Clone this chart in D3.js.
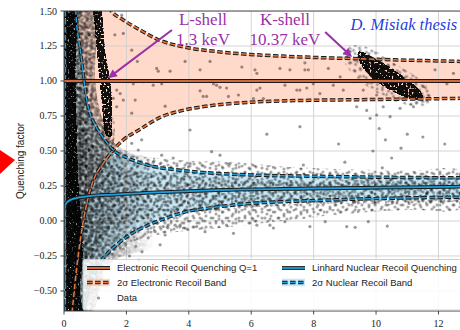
<!DOCTYPE html>
<html><head><meta charset="utf-8">
<script src="https://cdn.jsdelivr.net/npm/d3@7"></script>
<style>body{margin:0;background:#fff} svg{display:block}</style>
</head><body>
<svg id="c" width="460" height="330"></svg>
<script>
// ---------------- data ----------------
const xDomain = [0, 12.69];
const yDomain = [-0.643, 1.5];
const xTicks = [0, 2, 4, 6, 8, 10, 12];
const yTicks = [-0.5, -0.25, 0, 0.25, 0.5, 0.75, 1.0, 1.25, 1.5];

// Electronic recoil quenching Q=1
const erQuenchE = [0.0, 12.69];
const erQuenchQ = [1.0, 1.0];
// 2 sigma electronic recoil band
const erUpperE = [0, 0.4, 0.8, 1.2, 1.53, 1.9, 2.44, 3.08, 3.81, 4.9, 5.96, 7.56, 9.26, 10.77, 12.7];
const erUpperQ = [4.0, 2.3, 1.9, 1.62, 1.496, 1.436, 1.364, 1.29, 1.245, 1.21, 1.19, 1.172, 1.16, 1.15, 1.14];
const erLowerE = [0, 0.2, 0.26, 0.30, 0.41, 0.51, 0.62, 0.78, 0.99, 1.26, 1.58, 1.9, 2.44, 3.08, 3.81, 4.9, 5.96, 7.88, 9.26, 10.77, 12.7];
const erLowerQ = [-3.0, -0.8, -0.65, -0.564, -0.329, -0.157, 0.0, 0.174, 0.316, 0.412, 0.507, 0.579, 0.655, 0.74, 0.79, 0.829, 0.848, 0.862, 0.866, 0.87, 0.876];
// Lindhard nuclear recoil quenching
const lindE = [0.03, 0.1, 0.35, 0.78, 1.31, 2.0, 2.76, 4.9, 7.88, 10, 12.7];
const lindQ = [0.11, 0.135, 0.162, 0.177, 0.186, 0.193, 0.202, 0.221, 0.232, 0.238, 0.245];
// 2 sigma nuclear recoil band
const nrUpperE = [0, 0.2, 0.3, 0.375, 0.545, 0.73, 0.8, 0.9, 0.99, 1.31, 1.58, 2.06, 2.6, 3.81, 4.9, 5.96, 7.88, 10, 12.7];
const nrUpperQ = [5, 2.4, 1.85, 1.507, 1.186, 0.864, 0.79, 0.73, 0.69, 0.579, 0.507, 0.448, 0.405, 0.36, 0.34, 0.329, 0.32, 0.313, 0.308];
const nrLowerE = [0, 0.4, 0.55, 0.73, 1.0, 1.21, 1.42, 1.74, 2.17, 2.6, 3.2, 3.81, 4.9, 5.96, 7.88, 10, 12.7];
const nrLowerQ = [-5, -1.4, -0.85, -0.52, -0.36, -0.28, -0.225, -0.16, -0.09, -0.04, 0.015, 0.06, 0.10, 0.125, 0.145, 0.16, 0.17];
const nrBandStartE = 0.04;

// dense data clouds (outlines, energy keV / quenching)
const stripCloud = [[0.06,1.6],[0.05,1.0],[0.05,0.5],[0.07,0.0],[0.1,-0.3],[0.12,-0.7],
  [0.58,-0.7],[0.5,-0.5],[0.6,-0.25],[0.55,0.0],[0.46,0.25],[0.42,0.5],[0.36,1.0],[0.3,1.6]];
const lShellCloud = [[0.92,1.6],[0.94,1.5],[0.97,1.43],[1.05,1.22],[1.15,1.0],[1.21,0.864],[1.26,0.72],[1.33,0.62],
  [1.5,0.6],[1.53,0.72],[1.53,0.864],[1.47,1.0],[1.31,1.22],[1.24,1.43],[1.21,1.5],[1.2,1.6]];
const lShellTail = [[1.28,0.75],[1.33,0.5],[1.52,0.5],[1.56,0.75]];
const kShellCloud = [[9.45,1.21],[10.2,1.13],[10.85,1.035],[11.4,0.93],[11.5,0.88],
  [11.25,0.865],[10.6,0.92],[10.0,1.0],[9.6,1.09],[9.42,1.18]];
const kShellHalo = [[9.0,1.24],[9.6,1.25],[10.5,1.14],[11.7,0.95],[11.7,0.83],[10.8,0.84],[9.6,0.98],[9.0,1.13]];
const leftHaloCloud = [[0.3,1.6],[0.95,1.6],[1.0,1.0],[1.2,0.75],[1.6,0.56],[2.2,0.48],[2.8,0.44],[3.0,-0.15],
  [1.5,-0.3],[0.8,-0.7],[0.3,-0.7]];
const nrOuterCloud = [[0.4,1.0],[0.7,0.9],[0.95,0.75],[1.2,0.62],[1.6,0.52],[2.2,0.47],[3,0.45],[4,0.43],[5.5,0.42],
  [7,0.39],[9,0.37],[11,0.36],[12.8,0.35],[12.8,0.1],[11,0.08],[9,0.05],[7,0.0],[5,-0.05],[4,-0.07],[3,-0.1],
  [2.2,-0.15],[1.6,-0.25],[1.2,-0.35],[0.9,-0.5],[0.7,-0.7],[0.4,-0.7]];
const nrCoreCloud = [[0.4,0.8],[0.8,0.6],[1.2,0.45],[2,0.37],[3,0.34],[5,0.31],[8,0.29],[12.8,0.28],
  [12.8,0.17],[8,0.12],[5,0.08],[3,0.03],[2,-0.02],[1.2,-0.12],[0.8,-0.3],[0.4,-0.5]];

// individual sparse data points [E, Q]
const dataPoints = [
 [2.97,1.09],[3.02,1.07],[3.40,1.07],[3.88,1.14],[4.68,1.14],[4.36,1.08],[5.70,1.10],[6.12,1.08],[6.18,1.055],[6.92,1.09],[7.24,1.08],[7.72,1.08],
 [2.86,0.97],[3.13,0.98],[4.79,0.98],[4.89,0.97],[5.0,0.955],[5.21,0.95],[4.36,0.93],[4.46,0.89],[4.57,0.89],[6.28,0.95],[6.18,0.935],[7.08,0.97],
 [7.46,0.935],[7.78,0.95],[3.24,0.82],[5.27,0.89],[5.59,0.90],[6.07,0.875],[6.39,0.875],
 [0.81,1.33],[0.71,1.14],[2.35,1.14],[2.54,0.995],[2.06,0.995],[1.69,0.935],[1.58,0.876],[1.90,0.864],[1.69,0.816],[2.17,0.77],
 [1.85,1.47],[1.9,1.34],[1.63,1.33],[2.17,1.22],[1.96,1.0],[2.22,0.98],[1.8,0.91],[2.28,0.864],[0.67,1.2],[0.62,1.05],[0.73,0.935],
 [7.72,1.13],[7.83,1.08],[7.99,0.98],[8.47,1.09],[8.63,0.97],[8.85,1.03],[8.95,0.935],[9.27,0.995],[9.59,0.935],[10.02,0.90],
 [11.52,0.96],[11.62,0.864],[11.89,1.08],[12.48,1.055],[12.27,0.98],[9.38,0.816],[9.7,0.79],[10.23,0.816],[10.77,0.805],[11.2,0.816],
 [10.02,0.757],[10.45,0.745],[9.81,0.733],[9.17,1.21],[9.06,1.17],[8.2,0.91],[7.56,0.935],
 [10.1,0.66],[10.3,0.58],[9.9,0.5],[10.5,0.45],[10.8,0.52],[11.0,0.62],[10.2,0.38],
 [4.04,0.65],[4.73,0.495],[7.56,0.674],[7.67,0.40],[5.32,0.41],[5.0,0.47],[3.13,0.47],[3.5,0.45],[4.04,0.41],[2.86,0.42],
 [11.5,0.6],[12.2,0.55],[8.8,0.55],[6.5,0.62],[9.0,0.42],[2.17,0.555],[2.38,0.507],[2.0,0.6],[2.49,0.58],
 [2.97,-0.017],[3.18,-0.04],[3.34,-0.03],[3.56,-0.03],[3.72,-0.03],[3.83,-0.05],[3.08,-0.17],[3.24,-0.1],[2.92,-0.076],[4.25,-0.04],
 [4.52,-0.076],[5.21,-0.03],[5.43,-0.088],[6.18,-0.03],[6.6,-0.03],[6.71,-0.05],[7.08,-0.005],[7.88,-0.04],[8.37,-0.005],[9.06,-0.04],
 [9.33,-0.045],[9.75,-0.005],[10.36,-0.036],
 [1.9,-0.2],[2.1,-0.25],[2.3,-0.18],[2.5,-0.22],[2.7,-0.12],[2.0,-0.1],[2.4,-0.28],[1.8,-0.3]
];

// annotations
const annotations = [
  {lines:["L-shell","1.3 keV"], E:4.455, Q:[1.40,1.257], tail:[3.46,1.364], tip:[1.41,1.02]},
  {lines:["K-shell","10.37 keV"], E:7.08, Q:[1.40,1.257], tail:[8.37,1.35], tip:[9.23,1.171]}
];
const creditText = "D. Misiak thesis";
const creditPos = [12.6, 1.364];
const yLabel = "Quenching factor";
const legendLabels = ["Electronic Recoil Quenching Q=1","Linhard Nuclear Recoil Quenching",
  "2\u03c3 Electronic Recoil Band","2\u03c3 Nuclear Recoil Band","Data"];

// ---------------- drawing ----------------
const svg = d3.select('#c');
const L=64, T=11, R=460, B=311;
const x = d3.scaleLinear().domain(xDomain).range([L,R]);
const y = d3.scaleLinear().domain(yDomain).range([B,T]);
const ORANGE='#e8743b', ORANGE_SOLID='#d2693c', BLUE='#1c9fdc', PURPLE='#9b30a8';
const zip=(E,Q)=>E.map((e,i)=>[e,Q[i]]);
const erUpper=zip(erUpperE,erUpperQ), erLower=zip(erLowerE,erLowerQ);
const nrUpper=zip(nrUpperE,nrUpperQ), nrLower=zip(nrLowerE,nrLowerQ);
const lind=zip(lindE,lindQ), erQ=zip(erQuenchE,erQuenchQ);

const defs=svg.append('defs');
defs.append('clipPath').attr('id','plotClip').append('rect')
  .attr('x',L).attr('y',T).attr('width',R-L).attr('height',B-T);
const belowArea=d3.area().x(d=>x(d[0])).y0(B+50).y1(d=>y(d[1])).curve(d3.curveMonotoneX);
const aboveArea=d3.area().x(d=>x(d[0])).y0(T-50).y1(d=>y(d[1])).curve(d3.curveMonotoneX);
defs.append('clipPath').attr('id','erClip').append('path').attr('d',belowArea(erUpper));
defs.append('clipPath').attr('id','nrClip').append('path').attr('d',belowArea(nrUpper));

// scatter texture tiles (marker styling for the dense clouds)
const tiles=[
  {w:13,h:11,d:[[2,3],[8,1],[11,7],[5,9]]},
  {w:17,h:9,d:[[1,5],[7,2],[12,7],[15,3]]},
  {w:11,h:17,d:[[3,2],[9,6],[5,11],[1,15]]},
  {w:19,h:13,d:[[4,4],[10,10],[16,2],[13,7],[7,1]]}
];
const tileTransforms=['','rotate(31) translate(5,3)','rotate(-23) translate(2,7)','rotate(67) translate(9,1)'];
let pid=0; const pats=[];
tileTransforms.forEach(tr=>tiles.forEach(t=>{
  const id='pt'+(pid++);
  const p=defs.append('pattern').attr('id',id).attr('patternUnits','userSpaceOnUse')
    .attr('width',t.w).attr('height',t.h).attr('patternTransform',tr||null);
  t.d.forEach(c=>p.append('circle').attr('cx',c[0]).attr('cy',c[1]).attr('r',1.55).attr('fill','#000').attr('fill-opacity',0.34));
  pats.push(id);
}));

function speckFilter(id,freq,oct,seed,stretch,offset,slope,color,opacity){
  const f=defs.append('filter').attr('id',id).attr('filterUnits','userSpaceOnUse')
    .attr('x',L-4).attr('y',0).attr('width',R-L+8).attr('height',B+4).attr('color-interpolation-filters','sRGB');
  f.append('feTurbulence').attr('type','fractalNoise').attr('baseFrequency',freq).attr('numOctaves',oct).attr('seed',seed).attr('result','t');
  f.append('feColorMatrix').attr('in','t').attr('type','matrix')
    .attr('values',`0 0 0 0 0  0 0 0 0 0  0 0 0 0 0  ${stretch} 0 0 0 ${offset}`).attr('result','n');
  f.append('feComposite').attr('in','n').attr('in2','SourceAlpha').attr('operator','arithmetic')
    .attr('k1',0).attr('k2',1).attr('k3',1).attr('k4',-1).attr('result','m');
  f.append('feComponentTransfer').attr('in','m').attr('result','s')
    .append('feFuncA').attr('type','linear').attr('slope',slope).attr('intercept',0);
  f.append('feFlood').attr('flood-color',color).attr('flood-opacity',opacity).attr('result','c');
  f.append('feComposite').attr('in','c').attr('in2','s').attr('operator','in');
}
speckFilter('speckDense',0.5,2,3,4,-1.2,4,'#000',0.93);

const grad=defs.append('linearGradient').attr('id','haloGrad').attr('gradientUnits','userSpaceOnUse')
  .attr('x1',x(0.35)).attr('x2',x(2.9)).attr('y1',0).attr('y2',0);
grad.append('stop').attr('offset',0).attr('stop-color','#fff').attr('stop-opacity',1);
grad.append('stop').attr('offset',1).attr('stop-color','#fff').attr('stop-opacity',0);
defs.append('mask').attr('id','haloMask').attr('maskUnits','userSpaceOnUse')
  .attr('x',0).attr('y',0).attr('width',460).attr('height',330)
  .append('rect').attr('x',0).attr('y',0).attr('width',460).attr('height',330).attr('fill','url(#haloGrad)');

const plot=svg.append('g').attr('clip-path','url(#plotClip)');
// bands
plot.append('g').attr('clip-path','url(#erClip)').append('path').attr('d',aboveArea(erLower))
  .attr('fill','rgb(255,160,122)').attr('fill-opacity',0.4);
plot.append('g').attr('clip-path','url(#nrClip)').append('path').attr('d',aboveArea(nrLower))
  .attr('fill','rgb(135,206,235)').attr('fill-opacity',0.45);
// grid
const grid=plot.append('g').attr('stroke','#cfcfcf').attr('stroke-width',0.9);
xTicks.forEach(t=>grid.append('line').attr('x1',x(t)).attr('x2',x(t)).attr('y1',T).attr('y2',B));
yTicks.forEach(t=>grid.append('line').attr('y1',y(t)).attr('y2',y(t)).attr('x1',L).attr('x2',R));

// clouds
const poly=d3.line().x(d=>x(d[0])).y(d=>y(d[1])).curve(d3.curveCatmullRomClosed);
const cloud=plot.append('g');
function texture(g,shape,ids){ids.forEach(i=>g.append('path').attr('d',poly(shape)).attr('fill',`url(#${pats[i]})`));}
texture(cloud,nrOuterCloud,[0,1]);
texture(cloud,nrCoreCloud,[2,3,5]);
texture(cloud,kShellHalo,[4,6]);
texture(cloud,lShellTail,[7,8,9]);
const halo=cloud.append('g').attr('mask','url(#haloMask)');
texture(halo,leftHaloCloud,[4,6,7,8,9,10,11,12,13,14,15]);
const dense=plot.append('g').attr('filter','url(#speckDense)');
dense.append('path').attr('d',poly(stripCloud)).attr('fill','#000');
dense.append('path').attr('d',poly(lShellCloud)).attr('fill','#000').attr('fill-opacity',0.86);
dense.append('path').attr('d',poly(kShellCloud)).attr('fill','#000').attr('fill-opacity',0.95);
// sparse points
plot.append('g').selectAll('circle').data(dataPoints).join('circle')
  .attr('cx',d=>x(d[0])).attr('cy',d=>y(d[1])).attr('r',1.6).attr('fill','#000').attr('fill-opacity',0.4);

// lines
const lineGen=d3.line().x(d=>x(d[0])).y(d=>y(d[1])).curve(d3.curveMonotoneX);
function outlined(g,d,color,w,dash){
  g.append('path').attr('d',d).attr('fill','none').attr('stroke','#1a1a1a').attr('stroke-width',w+2)
    .attr('stroke-dasharray',dash||null);
  g.append('path').attr('d',d).attr('fill','none').attr('stroke',color).attr('stroke-width',w)
    .attr('stroke-dasharray',dash||null);
}
const lines=plot.append('g');
outlined(lines,`M${x(nrBandStartE)},${T}V${B}`,BLUE,1.4,'5.5,2.5');
outlined(lines,lineGen(erUpper),ORANGE,1.5,'5.5,2.5');
outlined(lines,lineGen(erLower),ORANGE,1.5,'5.5,2.5');
outlined(lines,lineGen(erQ),ORANGE_SOLID,2.0);
outlined(lines,lineGen(nrUpper),BLUE,1.5,'5.5,2.5');
outlined(lines,lineGen(nrLower),BLUE,1.5,'5.5,2.5');
outlined(lines,lineGen(lind),BLUE,1.8);

// spines & ticks
const ax=svg.append('g').attr('stroke','#333').attr('stroke-width',0.9);
ax.append('line').attr('x1',L).attr('x2',L).attr('y1',T).attr('y2',B);
ax.append('line').attr('x1',L).attr('x2',R).attr('y1',T).attr('y2',T);
ax.append('line').attr('x1',L).attr('x2',R).attr('y1',B).attr('y2',B);
const fmt=d=>d3.format('.2f')(d).replace('-','\u2212');
yTicks.forEach(t=>{
  ax.append('line').attr('x1',L-3.5).attr('x2',L).attr('y1',y(t)).attr('y2',y(t));
  svg.append('text').attr('x',L-7).attr('y',y(t)).attr('dy','0.35em').attr('text-anchor','end')
    .attr('font-family','Liberation Serif, DejaVu Serif, serif').attr('font-size',10).attr('fill','#222').text(fmt(t));
});
xTicks.forEach(t=>{
  ax.append('line').attr('x1',x(t)).attr('x2',x(t)).attr('y1',B).attr('y2',B+3.5);
  svg.append('text').attr('x',x(t)).attr('y',B+16).attr('text-anchor','middle')
    .attr('font-family','Liberation Serif, DejaVu Serif, serif').attr('font-size',10).attr('fill','#222').text(t);
});
svg.append('text').attr('transform',`translate(24,${(T+B)/2}) rotate(-90)`).attr('text-anchor','middle')
  .attr('font-family','Liberation Sans, Arial, sans-serif').attr('font-size',10).attr('fill','#222').text(yLabel);

// red pointer triangle at left (slide decoration)
svg.append('path').attr('d','M0,150L15,160L0,174Z').attr('fill','#f00');

// legend
const lg=svg.append('g');
lg.append('rect').attr('x',83).attr('y',259.5).attr('width',400).attr('height',50.5).attr('rx',2)
  .attr('fill','#fff').attr('fill-opacity',0.85).attr('stroke','#cccccc').attr('stroke-width',0.9);
const rows=[268,282.5,298];
const cols=[[87,110,117],[282,305,312]];
function lgText(tx,ty,s){lg.append('text').attr('x',tx).attr('y',ty).attr('dy','0.35em')
  .attr('font-family','Liberation Sans, Arial, sans-serif').attr('font-size',9.5).attr('fill','#222').text(s);}
outlined(lg,`M${cols[0][0]},${rows[0]}H${cols[0][1]}`,ORANGE_SOLID,2.0); lgText(cols[0][2],rows[0],legendLabels[0]);
outlined(lg,`M${cols[1][0]},${rows[0]}H${cols[1][1]}`,BLUE,1.8); lgText(cols[1][2],rows[0],legendLabels[1]);
lg.append('rect').attr('x',cols[0][0]).attr('y',rows[1]-3.8).attr('width',23).attr('height',7.6)
  .attr('fill','rgb(255,160,122)').attr('fill-opacity',0.4);
outlined(lg,`M${cols[0][0]},${rows[1]}H${cols[0][1]}`,ORANGE,1.5,'5.5,2.5'); lgText(cols[0][2],rows[1],legendLabels[2]);
lg.append('rect').attr('x',cols[1][0]).attr('y',rows[1]-3.8).attr('width',23).attr('height',7.6)
  .attr('fill','rgb(135,206,235)').attr('fill-opacity',0.45);
outlined(lg,`M${cols[1][0]},${rows[1]}H${cols[1][1]}`,BLUE,1.5,'5.5,2.5'); lgText(cols[1][2],rows[1],legendLabels[3]);
lg.append('circle').attr('cx',(cols[0][0]+cols[0][1])/2).attr('cy',rows[2]).attr('r',1.6).attr('fill','#000').attr('fill-opacity',0.4);
lgText(cols[0][2],rows[2],legendLabels[4]);

// annotations
const an=svg.append('g');
annotations.forEach(a=>{
  a.lines.forEach((s,i)=>an.append('text').attr('x',x(a.E)).attr('y',y(a.Q[i])).attr('text-anchor','middle')
    .attr('font-family','Liberation Serif, Times New Roman, serif').attr('font-size',17).attr('fill',PURPLE).text(s));
  const x0=x(a.tail[0]),y0=y(a.tail[1]),x1=x(a.tip[0]),y1=y(a.tip[1]);
  const dx=x1-x0,dy=y1-y0,len=Math.hypot(dx,dy),ux=dx/len,uy=dy/len;
  const hl=9,hw=4.2,bx=x1-ux*hl,by=y1-uy*hl;
  an.append('line').attr('x1',x0).attr('y1',y0).attr('x2',bx+ux*1).attr('y2',by+uy*1)
    .attr('stroke',PURPLE).attr('stroke-width',2);
  an.append('path').attr('d',`M${x1},${y1}L${bx-uy*hw},${by+ux*hw}L${bx+uy*hw},${by-ux*hw}Z`).attr('fill',PURPLE);
});
an.append('text').attr('x',x(creditPos[0])).attr('y',y(creditPos[1])).attr('text-anchor','end')
  .attr('font-family','Liberation Serif, Times New Roman, serif').attr('font-style','italic')
  .attr('font-size',16.5).attr('fill','#1f3fe0').text(creditText);
</script>
</body></html>
